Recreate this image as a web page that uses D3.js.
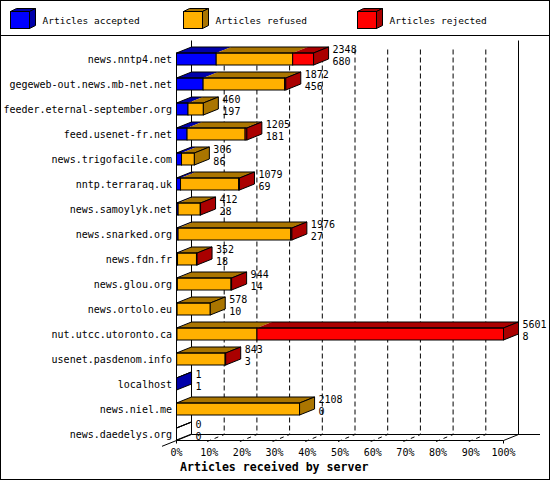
<!DOCTYPE html>
<html>
<head>
<meta charset="utf-8">
<script src="https://cdn.jsdelivr.net/npm/d3@7"></script>
<style>
  body { margin: 0; background: #fff; }
  text { font-family: "DejaVu Sans Mono", monospace; fill: #000; }
</style>
</head>
<body>
<svg width="550" height="480"></svg>
<script>
// Servers, top to bottom
const servers = ["news.nntp4.net", "gegeweb-out.news.mb-net.net", "feeder.eternal-september.org",
  "feed.usenet-fr.net", "news.trigofacile.com", "nntp.terraraq.uk", "news.samoylyk.net",
  "news.snarked.org", "news.fdn.fr", "news.glou.org", "news.ortolo.eu", "nut.utcc.utoronto.ca",
  "usenet.pasdenom.info", "localhost", "news.niel.me", "news.daedelys.org"];

// Articles per server (stacked: accepted, refused, rejected)
const accepted = [680, 456, 197, 181, 86, 69, 28, 27, 18, 14, 10, 8, 3, 1, 0, 0];
const refused  = [1310, 1396, 263, 994, 220, 995, 379, 1929, 324, 920, 568, 1370, 830, 0, 2108, 0];
const rejected = [358, 20, 0, 30, 0, 15, 5, 20, 10, 10, 0, 4223, 10, 0, 0, 0];

const seriesNames = ["Articles accepted", "Articles refused", "Articles rejected"];
const pctTicks = [0, 10, 20, 30, 40, 50, 60, 70, 80, 90, 100];

const colors = ["#0000ff", "#ffb000", "#ff0000"];
const darks  = ["#0000aa", "#aa7500", "#aa0000"];

const series = [accepted, refused, rejected];
const totals = servers.map((s, i) => accepted[i] + refused[i] + rejected[i]);

let svg = d3.select("svg");

// frame + legend separator
svg.append("rect").attr("x", 0.5).attr("y", 0.5).attr("width", 549).attr("height", 479)
  .attr("fill", "#fff").attr("stroke", "#000");
svg.append("line").attr("x1", 0).attr("x2", 550).attr("y1", 35.5).attr("y2", 35.5).attr("stroke", "#000");

// ---- legend
const legX = [10, 183, 357];
seriesNames.forEach((name, k) => {
  let g = svg.append("g").attr("transform", `translate(${legX[k] + 0.5},11.5)`);
  let w = 19, h = 17, dx = 6, dy = 3;
  g.append("polygon").attr("points", `0,0 ${w},0 ${w + dx},${-dy} ${dx},${-dy}`)
    .attr("fill", darks[k]).attr("stroke", "#000");
  g.append("polygon").attr("points", `${w},0 ${w + dx},${-dy} ${w + dx},${h - dy} ${w},${h}`)
    .attr("fill", darks[k]).attr("stroke", "#000");
  g.append("rect").attr("width", w).attr("height", h).attr("fill", colors[k]).attr("stroke", "#000");
  g.append("text").attr("x", 32).attr("y", 12.5).attr("font-size", 9.5).text(name);
});

// ---- scales
const DX = 15, DY = 6, H = 6;
const xLeft = 176.5, xRight = 503.5, floorY = 440.5, topY = 40.5;

let x = d3.scaleLinear().domain([0, d3.max(totals)]).range([xLeft, xRight]);
let xp = d3.scaleLinear().domain([0, 100]).range([xLeft, xRight]);
let y = d3.scalePoint().domain(servers).range([59, 434]);

// ---- back walls and grid
let grid = svg.append("g").attr("stroke", "#000").attr("fill", "none");
grid.selectAll("line.grid")
  .data(pctTicks.slice(1, -1))
  .enter().append("line")
  .attr("x1", d => xp(d) + DX).attr("x2", d => xp(d) + DX)
  .attr("y1", topY + 9).attr("y2", floorY - DY)
  .attr("stroke-dasharray", "5,3");

grid.append("line").attr("x1", xLeft + DX).attr("x2", xLeft + DX).attr("y1", topY).attr("y2", floorY - DY);
grid.append("line").attr("x1", xRight + DX).attr("x2", xRight + DX).attr("y1", topY).attr("y2", floorY - DY);
grid.append("line").attr("x1", xLeft + DX).attr("x2", 540).attr("y1", floorY - DY).attr("y2", floorY - DY);
grid.append("line").attr("x1", xLeft).attr("x2", xRight).attr("y1", floorY).attr("y2", floorY);
grid.append("line").attr("x1", xLeft + DX).attr("y1", floorY - DY)
  .attr("x2", xLeft - 14.5).attr("y2", floorY + DY * 14.5 / DX);
grid.append("line").attr("x1", xRight).attr("y1", floorY).attr("x2", xRight + DX).attr("y2", floorY - DY);
grid.append("line").attr("x1", xLeft).attr("x2", xLeft).attr("y1", y(servers[0]) - H).attr("y2", floorY + 3);

// floor ticks
grid.selectAll("line.tick")
  .data(pctTicks.slice(1, -1))
  .enter().append("line")
  .attr("x1", d => xp(d) - 2).attr("y1", floorY + 1)
  .attr("x2", d => xp(d) + DX).attr("y2", floorY - DY)
  .attr("stroke-dasharray", "4,4");
grid.append("line").attr("x1", xRight).attr("x2", xRight).attr("y1", floorY).attr("y2", floorY + 3);

// ---- bars
servers.forEach((s, i) => {
  let c = y(s);
  let g = svg.append("g");
  let cum = 0, last = -1;
  series.forEach((vals, k) => {
    let v = vals[i];
    if (v <= 0) return;
    let xa = x(cum), xb = x(cum + v);
    g.append("polygon")
      .attr("points", `${xa},${c - H} ${xb},${c - H} ${xb + DX},${c - H - DY} ${xa + DX},${c - H - DY}`)
      .attr("fill", darks[k]);
    g.append("rect").attr("x", xa).attr("y", c - H).attr("width", xb - xa).attr("height", 2 * H)
      .attr("fill", colors[k]).attr("stroke", "#000");
    cum += v;
    last = k;
  });
  let xe = x(cum);
  // outline of top face
  g.append("polygon")
    .attr("points", `${xLeft},${c - H} ${xe},${c - H} ${xe + DX},${c - H - DY} ${xLeft + DX},${c - H - DY}`)
    .attr("fill", "none").attr("stroke", "#000");
  // side face
  g.append("polygon")
    .attr("points", `${xe},${c - H} ${xe + DX},${c - H - DY} ${xe + DX},${c + H - DY} ${xe},${c + H}`)
    .attr("fill", last >= 0 ? darks[last] : "none").attr("stroke", "#000");

  g.append("text").attr("x", xe + DX + 4).attr("y", c - 6).attr("font-size", 10).text(totals[i]);
  g.append("text").attr("x", xe + DX + 4).attr("y", c + 5.5).attr("font-size", 10).text(accepted[i]);
});

// ---- labels
svg.append("g").selectAll("text")
  .data(servers)
  .enter().append("text")
  .attr("x", 172).attr("y", d => y(d) + 3.5)
  .attr("text-anchor", "end").attr("font-size", 10)
  .text(d => d);

svg.append("g").selectAll("text")
  .data(pctTicks)
  .enter().append("text")
  .attr("x", d => xp(d)).attr("y", 456)
  .attr("text-anchor", "middle").attr("font-size", 10)
  .text(d => d + "%");

svg.append("text").attr("x", 180).attr("y", 471)
  .attr("font-size", 11.6).attr("font-weight", "bold")
  .text("Articles received by server");
</script>
</body>
</html>
